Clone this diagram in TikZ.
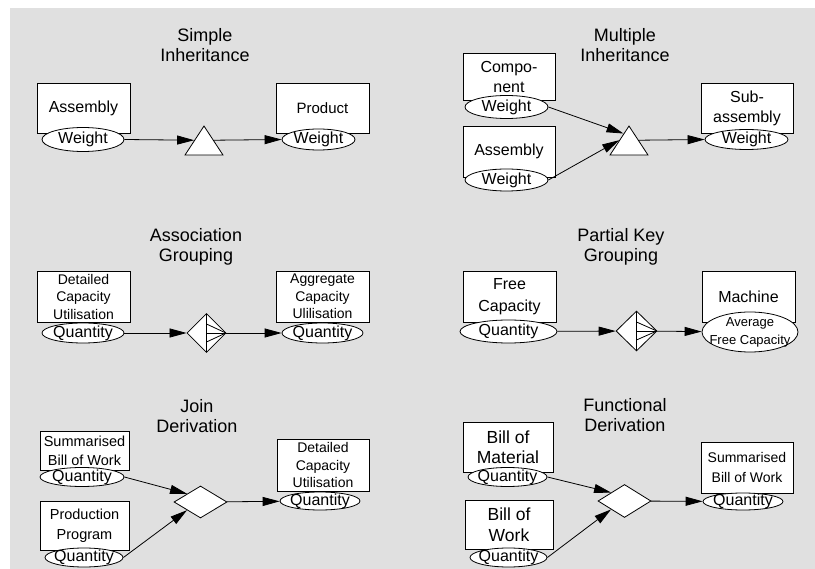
\documentclass[tikz,border=0pt]{standalone}
\usepackage{fontspec}
\setmainfont{Liberation Sans}
\usetikzlibrary{shapes.geometric,arrows.meta,calc}
\definecolor{panelgray}{HTML}{E0E0E0}

\begin{document}
\begin{tikzpicture}[x=1pt,y=-1pt,line width=0.8pt]
    \tikzstyle{title} = [align=center, font=\fontsize{18}{20}\selectfont]
    \tikzstyle{entity} = [draw, fill=white, rectangle, inner sep=0pt, align=center, font=\fontsize{16}{20}\selectfont]
    \tikzstyle{small} = [font=\fontsize{14}{17.5}\selectfont]
    \tikzstyle{attr} = [draw, fill=white, ellipse, inner xsep=-12pt, inner ysep=-6pt, align=center, font=\fontsize{16}{18}\selectfont]
    \tikzstyle{inherit} = [draw, fill=white, isosceles triangle, shape border rotate=90, isosceles triangle stretches, minimum width=38pt, minimum height=29pt, inner sep=0pt, anchor=apex]
    \tikzstyle{derive} = [draw, fill=white, diamond, inner sep=0pt]
    \tikzstyle{group} = [derive, path picture={
        \draw (path picture bounding box.north) -- (path picture bounding box.south);
        \draw (path picture bounding box.center) -- (path picture bounding box.east);
        \draw ([yshift=9pt]path picture bounding box.center) -- (path picture bounding box.east);
        \draw ([yshift=-9pt]path picture bounding box.center) -- (path picture bounding box.east);
    }]
    \tikzstyle{link} = [-{Triangle[length=17pt,width=9pt]}]

    \useasboundingbox (0,0) rectangle (815,569);
    \fill[panelgray] (10,8) rectangle (815,569);

    % simple inheritance
    \node[title] (t1) at (205,45) {Simple\\Inheritance};
    \node[entity, minimum width=93, minimum height=50] (sa) at (83.5,108) {Assembly};
    \node[attr, minimum width=82, minimum height=24] (saw) at (83,139.5) {Weight};
    \node[inherit] (si) at (204,125) {};
    \node[entity, minimum width=93, minimum height=50, font=\fontsize{15}{18}\selectfont] (sp) at (322.5,108) {Product};
    \node[attr, minimum width=73, minimum height=21] (spw) at (318.5,139.5) {Weight};

    % multiple inheritance
    \node[title] (t2) at (625,45) {Multiple\\Inheritance};
    \node[entity, minimum width=92, minimum height=47] (mc) at (509,76.5) {Compo-\\nent};
    \node[attr, minimum width=83, minimum height=23] (mcw) at (506.5,107) {Weight};
    \node[entity, minimum width=92, minimum height=51] (ma) at (509,151.5) {Assembly};
    \node[attr, minimum width=83, minimum height=22] (maw) at (506.5,180) {Weight};
    \node[inherit] (mi) at (629,125) {};
    \coordinate (mi-in) at ($(mi.apex)!0.28!(mi.left corner)$);
    \node[entity, minimum width=92, minimum height=50] (ms) at (747,108) {Sub-\\assembly};
    \node[attr, minimum width=83, minimum height=20] (msw) at (746.5,139.5) {Weight};

    % association grouping
    \node[title] (t3) at (196,247) {Association\\Grouping};
    \node[entity, small, minimum width=93, minimum height=51] (ad) at (83.5,296.5) {Detailed\\Capacity\\Utilisation};
    \node[attr, minimum width=82, minimum height=20] (adq) at (83,333) {Quantity};
    \node[group, minimum width=39, minimum height=39] (ag) at (206.5,333) {};
    \node[entity, small, minimum width=93, minimum height=51] (aa) at (322.5,296.5) {Aggregate\\Capacity\\Ulilisation};
    \node[attr, minimum width=81, minimum height=20] (aaq) at (322.5,333) {Quantity};

    % partial key grouping
    \node[title] (t4) at (621,247) {Partial Key\\Grouping};
    \node[entity, minimum width=93, minimum height=51, font=\fontsize{16}{22}\selectfont] (pf) at (509.5,296.5) {Free\\Capacity};
    \node[attr, minimum width=97, minimum height=23] (pfq) at (508.5,331.5) {Quantity};
    \node[group, minimum width=41, minimum height=40] (pg) at (636.5,331) {};
    \node[entity, minimum width=93, minimum height=51] (pm) at (748.5,296.5) {Machine};
    \node[attr, minimum width=96, minimum height=40, font=\fontsize{13}{18}\selectfont] (pma) at (750,332) {Average\\Free Capacity};

    % join derivation
    \node[title] (t5) at (197,416) {Join\\Derivation};
    \node[entity, font=\fontsize{14.5}{19}\selectfont, minimum width=89, minimum height=39] (js) at (84.5,450.5) {Summarised\\Bill of Work};
    \node[attr, minimum width=84, minimum height=19] (jsq) at (82,477) {Quantity};
    \node[entity, font=\fontsize{14.5}{20}\selectfont, minimum width=89, minimum height=49] (jp) at (84.5,525.5) {Production\\Program};
    \node[attr, minimum width=78, minimum height=19] (jpq) at (84,557.5) {Quantity};
    \node[derive, minimum width=53, minimum height=32] (jd) at (200.5,502) {};
    \node[entity, small, minimum width=92, minimum height=52] (jc) at (323,465) {Detailed\\Capacity\\Utilisation};
    \node[attr, minimum width=80, minimum height=18] (jcq) at (320,501) {Quantity};

    % functional derivation
    \node[title] (t6) at (625,415) {Functional\\Derivation};
    \node[entity, font=\fontsize{17.5}{20}\selectfont, minimum width=90, minimum height=50] (fm) at (508,447) {Bill of\\Material};
    \node[attr, minimum width=79, minimum height=19] (fmq) at (507.5,477) {Quantity};
    \node[entity, font=\fontsize{17.5}{21}\selectfont, minimum width=88, minimum height=49] (fw) at (509,524.5) {Bill of\\Work};
    \node[attr, minimum width=77, minimum height=19] (fwq) at (508.5,557.5) {Quantity};
    \node[derive, minimum width=53, minimum height=33] (fd) at (624.5,501) {};
    \node[entity, font=\fontsize{14}{20}\selectfont, minimum width=92, minimum height=51] (fs) at (747,467.5) {Summarised\\Bill of Work};
    \node[attr, minimum width=80, minimum height=17] (fsq) at (743,501.5) {Quantity};

    \foreach \a/\b in {saw.east/si.left side, si.right side/spw.west,
                       mcw.east/mi-in, maw.east/mi.left side, mi.right side/msw.west,
                       adq/ag, ag/aaq, pfq/pg, pg/pma,
                       jsq.east/jd.north west, jpq.east/jd.south west, jd/jcq,
                       fmq.east/fd.north west, fwq.east/fd.south west, fd/fsq} {
        \draw[link] (\a) -- (\b);
    }
\end{tikzpicture}
\end{document}
